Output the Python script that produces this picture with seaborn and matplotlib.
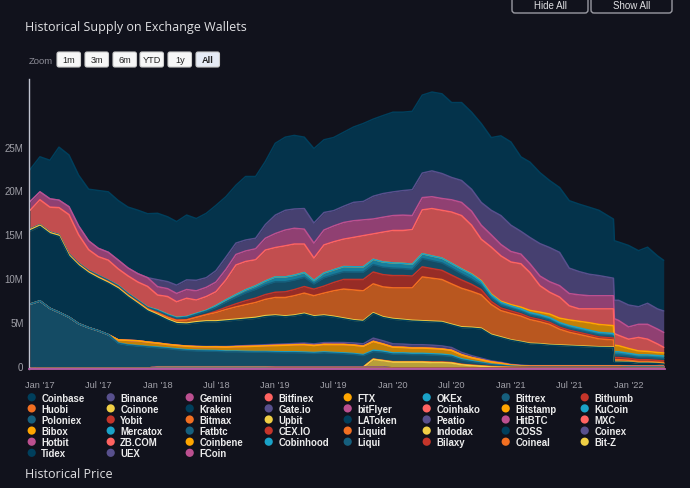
import numpy as np
import pandas as pd
import matplotlib
matplotlib.use("Agg")
import matplotlib.pyplot as plt
import matplotlib.transforms as mtransforms
from matplotlib.patches import FancyBboxPatch, Circle
import seaborn as sns

# ---------------------------------------------------------------- data
DATES = (list(pd.date_range("2016-12-01", "2021-10-01", freq="MS"))
         + [pd.Timestamp("2021-11-15"), pd.Timestamp("2021-11-18")]
         + list(pd.date_range("2021-12-01", "2022-04-01", freq="MS"))
         + [pd.Timestamp("2022-04-20")])
YEARS = [2016, 2017, 2018, 2019, 2020, 2021, 2022]

# monthly readings (millions), rows: 2016-12 | 2017 | 2018 | 2019 | 2020 | 2021 (+Nov15, Nov18) | 2022
COINBASE = [3.65,
            4.0, 4.4, 6.05, 5.9, 5.8, 5.9, 6.6, 6.9, 6.8, 6.95, 7.25, 7.3,
            7.58, 7.4, 7.25, 7.4, 7.05, 7.35, 7.45, 6.9, 6.6, 7.25, 7.05, 7.2,
            8.2, 8.35, 8.4, 8.15, 8.5, 8.3, 8.35, 8.45, 8.6, 8.9, 8.8, 8.9,
            9.1, 8.95, 8.95, 8.9, 9.0, 9.1, 8.55, 8.9, 8.8, 9.0, 8.3, 9.1,
            9.5, 8.5, 8.6, 8.1, 7.65, 7.4, 7.7, 7.7, 7.65, 7.45, 6.75, 6.8, 6.65,
            6.8, 6.4, 6.4, 6.05, 5.78]
BINANCE = [0,
           0, 0, 0, 0, 0, 0, 0, 0, 0, 0, 0, 0,
           0.8, 0.8, 0.95, 1.1, 1.2, 1.1, 1.3, 1.4, 1.3, 1.25, 1.2, 1.55,
           2.1, 2.25, 2.2, 2.35, 2.3, 2.0, 1.75, 1.85, 2.1, 2.1, 2.6, 2.7,
           2.7, 2.8, 2.95, 2.8, 2.95, 2.85, 2.55, 2.5, 2.5, 2.6, 2.8, 3.3,
           3.0, 2.6, 3.0, 3.7, 3.9, 3.8, 2.9, 2.65, 2.45, 2.3, 2.0, 2.1, 2.3,
           2.5, 2.0, 2.4, 2.3, 2.45]
GEMINI = [1.0,
          0.9, 0.95, 0.85, 0.9, 1.0, 1.0, 0.95, 0.9, 1.0, 0.9, 0.95, 1.0,
          0.95, 0.9, 0.95, 1.0, 1.05, 1.05, 1.1, 1.2, 1.2, 1.2, 1.25, 1.35,
          1.6, 1.8, 1.8, 1.7, 1.7, 1.7, 1.8, 1.9, 1.9, 1.8, 1.7, 1.7,
          1.7, 1.75, 1.6, 1.4, 1.35, 1.35, 1.4, 1.5, 1.6, 1.6, 1.4, 1.3,
          1.2, 1.1, 1.0, 1.1, 1.2, 1.3, 1.4, 1.6, 1.5, 1.5, 1.5, 1.7, 1.7,
          1.4, 1.5, 1.7, 1.7, 1.7]
BITFINEX = [2.14,
            2.84, 2.84, 3.08, 4.49, 3.26, 2.38, 2.14, 2.29, 1.9, 2.0, 2.08, 2.36,
            1.7, 2.03, 1.78, 2.08, 1.53, 1.58, 1.58, 2.28, 3.38, 3.23, 2.98, 3.53,
            3.35, 3.55, 3.55, 3.25, 2.55, 3.2, 3.2, 3.13, 3.35, 3.55, 2.9, 3.4,
            3.7, 3.75, 3.95, 5.0, 5.4, 5.45, 5.85, 6.08, 5.55, 4.72, 5.35, 5.18,
            4.86, 4.95, 4.32, 3.02, 2.49, 2.41, 1.61, 1.42, 1.58, 1.78, 1.91, 1.33, 1.18,
            1.06, 1.54, 1.39, 0.97, 0.64]
FTX = [0,
       0, 0, 0, 0, 0, 0, 0, 0, 0, 0, 0, 0,
       0, 0, 0, 0, 0, 0, 0, 0, 0, 0, 0, 0,
       0, 0, 0, 0, 0, 0, 0, 0, 0, 0, 0, 0,
       0, 0, 0, 0, 0, 0, 0, 0.02, 0.05, 0.08, 0.1, 0.12,
       0.15, 0.2, 0.25, 0.3, 0.4, 0.5, 0.65, 0.75, 0.85, 0.9, 0.9, 0.75, 0.7,
       0.55, 0.45, 0.4, 0.35, 0.35]
OKEX = [0.02,
        0.02, 0.02, 0.02, 0.02, 0.02, 0.02, 0.02, 0.02, 0.05, 0.05, 0.05, 0.05,
        0.1, 0.1, 0.1, 0.1, 0.1, 0.1, 0.2, 0.25, 0.3, 0.35, 0.4, 0.45,
        0.55, 0.55, 0.55, 0.55, 0.4, 0.55, 0.55, 0.6, 0.6, 0.6, 0.6, 0.6,
        0.6, 0.6, 0.6, 0.55, 0.55, 0.55, 0.55, 0.55, 0.55, 0.45, 0.4, 0.35,
        0.3, 0.3, 0.3, 0.3, 0.3, 0.3, 0.3, 0.3, 0.3, 0.3, 0.3, 0.35, 0.35,
        0.3, 0.3, 0.3, 0.3, 0.3]
BITTREX = [0.05,
           0.05, 0.05, 0.06, 0.08, 0.1, 0.12, 0.15, 0.15, 0.15, 0.15, 0.15, 0.15,
           0.2, 0.2, 0.2, 0.25, 0.3, 0.35, 0.45, 0.6, 0.75, 0.9, 1.0, 1.1,
           1.2, 1.15, 1.1, 1.05, 0.6, 0.95, 0.9, 0.87, 0.85, 0.85, 0.85, 0.85,
           0.85, 0.8, 0.75, 0.95, 0.9, 0.85, 0.8, 0.7, 0.6, 0.5, 0.35, 0.3,
           0.28, 0.26, 0.25, 0.25, 0.24, 0.23, 0.23, 0.22, 0.22, 0.22, 0.22, 0.3, 0.3,
           0.28, 0.25, 0.25, 0.25, 0.25]
BITHUMB = [0.02,
           0.02, 0.02, 0.02, 0.02, 0.02, 0.02, 0.02, 0.02, 0.02, 0.02, 0.02, 0.02,
           0.05, 0.05, 0.05, 0.05, 0.05, 0.05, 0.15, 0.25, 0.35, 0.45, 0.5, 0.55,
           0.6, 0.65, 0.7, 0.75, 0.75, 0.8, 0.95, 1.1, 1.2, 1.3, 1.35, 1.4,
           1.4, 1.4, 1.35, 1.15, 1.1, 1.05, 1.0, 0.95, 0.8, 0.6, 0.35, 0.3,
           0.28, 0.26, 0.25, 0.25, 0.24, 0.23, 0.23, 0.23, 0.22, 0.22, 0.22, 0.25, 0.25,
           0.22, 0.2, 0.2, 0.2, 0.2]
HUOBI = [0,
         0, 0, 0, 0.02, 0.03, 0.04, 0.05, 0.05, 0.06, 0.07, 0.08, 0.1,
         0.15, 0.2, 0.25, 0.35, 0.5, 0.7, 0.95, 1.2, 1.4, 1.55, 1.7, 1.85,
         2.0, 2.1, 2.2, 2.3, 2.3, 2.5, 2.9, 3.3, 3.4, 3.4, 3.3, 3.4,
         3.5, 3.6, 3.7, 5.0, 4.9, 4.8, 4.6, 4.4, 4.1, 3.8, 3.4, 3.0,
         3.0, 2.9, 2.7, 2.5, 2.3, 1.8, 1.5, 1.3, 1.1, 0.9, 0.8, 0.2, 0.2,
         0.18, 0.15, 0.15, 0.12, 0.12]
KRAKEN = [8.35,
          8.5, 8.5, 8.65, 6.95, 6.6, 6.2, 5.95, 5.85, 5.8, 4.95, 4.2, 3.55,
          3.15, 2.75, 2.45, 2.5, 2.7, 2.82, 2.8, 2.9, 2.95, 3.0, 3.05, 3.2,
          3.25, 3.1, 3.15, 3.3, 3.1, 3.05, 2.9, 2.7, 2.55, 2.55, 2.8, 2.65,
          2.79, 2.72, 2.69, 2.64, 2.64, 2.68, 2.56, 2.82, 3.14, 3.33, 2.93, 2.8,
          2.73, 2.63, 2.48, 2.43, 2.33, 2.28, 2.23, 2.18, 2.13, 2.08, 2.05, 0.4, 0.4,
          0.4, 0.3, 0.3, 0.25, 0.2]
GATEIO = [0,
          0, 0, 0, 0, 0, 0, 0, 0, 0, 0, 0, 0,
          0, 0, 0, 0, 0, 0, 0.02, 0.05, 0.05, 0.08, 0.1, 0.1,
          0.1, 0.12, 0.12, 0.15, 0.15, 0.18, 0.2, 0.2, 0.22, 0.25, 0.35, 0.35,
          0.35, 0.35, 0.35, 0.35, 0.35, 0.33, 0.3, 0.25, 0.2, 0.15, 0.1, 0.08,
          0.05, 0.04, 0.04, 0.04, 0.04, 0.04, 0.04, 0.04, 0.04, 0.04, 0.04, 0.04, 0.04,
          0.04, 0.04, 0.04, 0.04, 0.04]
BITSTAMP = [0,
            0, 0, 0, 0, 0, 0, 0, 0, 0.35, 0.5, 0.55, 0.5,
            0.45, 0.4, 0.4, 0.4, 0.4, 0.4, 0.42, 0.45, 0.5, 0.55, 0.6, 0.65,
            0.7, 0.75, 0.8, 0.85, 0.8, 0.85, 0.9, 0.95, 0.95, 0.95, 1.0, 0.8,
            0.65, 0.62, 0.6, 0.6, 0.6, 0.58, 0.55, 0.45, 0.35, 0.3, 0.25, 0.2,
            0.12, 0.08, 0.06, 0.06, 0.06, 0.06, 0.06, 0.06, 0.06, 0.06, 0.06, 0.06, 0.06,
            0.06, 0.06, 0.06, 0.06, 0.06]
KUCOIN = [0,
          0, 0, 0, 0, 0, 0, 0, 0, 0.05, 0.05, 0.05, 0.05,
          0.08, 0.08, 0.08, 0.08, 0.08, 0.08, 0.08, 0.08, 0.08, 0.08, 0.08, 0.08,
          0.1, 0.1, 0.1, 0.1, 0.1, 0.1, 0.1, 0.1, 0.1, 0.1, 0.15, 0.15,
          0.15, 0.15, 0.15, 0.15, 0.15, 0.15, 0.13, 0.12, 0.1, 0.08, 0.06, 0.05,
          0.04, 0.03, 0.03, 0.03, 0.03, 0.03, 0.03, 0.03, 0.03, 0.03, 0.03, 0.03, 0.03,
          0.03, 0.03, 0.03, 0.03, 0.03]
POLONIEX = [7.31,
            7.66, 6.81, 6.36, 5.81, 5.06, 4.61, 4.26, 3.81, 2.81, 2.61, 2.51, 2.41,
            2.16, 2.06, 1.96, 1.86, 1.81, 1.79, 1.77, 1.71, 1.71, 1.68, 1.66, 1.66,
            1.64, 1.62, 1.62, 1.59, 1.54, 1.61, 1.55, 1.5, 1.43, 1.3, 0.85, 0.9,
            0.85, 0.85, 0.8, 0.8, 0.8, 0.75, 0.7, 0.5, 0.4, 0.3, 0.2, 0.15,
            0.1, 0.07, 0.05, 0.05, 0.05, 0.05, 0.05, 0.05, 0.05, 0.05, 0.05, 0.05, 0.05,
            0.05, 0.05, 0.05, 0.05, 0.05]
UPBIT = [0,
         0, 0, 0, 0, 0, 0, 0, 0, 0, 0, 0, 0,
         0, 0, 0, 0, 0, 0, 0, 0, 0, 0, 0, 0,
         0, 0, 0, 0, 0, 0, 0, 0, 0, 0, 0.9, 0.75,
         0.65, 0.65, 0.65, 0.65, 0.6, 0.6, 0.55, 0.35, 0.25, 0.18, 0.1, 0.06,
         0.04, 0.03, 0.02, 0.02, 0.02, 0.02, 0.02, 0.02, 0.02, 0.02, 0.02, 0.02, 0.02,
         0.02, 0.02, 0.02, 0.02, 0.02]

# thin series, one reading per calendar year (2016 ... 2022)
COINONE_Y = [0.12, 0.12, 0.12, 0.10, 0.10, 0.08, 0.05]
BITFLYER_Y = [0, 0, 0.02, 0.02, 0.02, 0.02, 0.02]
COINHAKO_Y = [0, 0, 0, 0.01, 0.01, 0.01, 0.01]
YOBIT_Y = [0, 0, 0.02, 0.02, 0.02, 0, 0]
BITMAX_Y = [0, 0, 0, 0.02, 0.04, 0.03, 0.02]
LATOKEN_Y = [0, 0, 0.01, 0.01, 0, 0, 0]
PEATIO_Y = [0, 0, 0.01, 0, 0, 0, 0]
HITBTC_Y = [0.04, 0.04, 0.04, 0.04, 0.04, 0.04, 0.04]
MXC_Y = [0, 0, 0, 0, 0.01, 0.01, 0.01]
BIBOX_Y = [0, 0, 0.02, 0.02, 0, 0, 0]
MERCATOX_Y = [0, 0.01, 0.01, 0, 0, 0, 0]
FATBTC_Y = [0, 0, 0.01, 0, 0, 0, 0]
CEXIO_Y = [0.02, 0.02, 0.02, 0.02, 0.02, 0.02, 0.02]
LIQUID_Y = [0, 0, 0.03, 0.03, 0.03, 0.02, 0.02]
INDODAX_Y = [0.01, 0.01, 0.01, 0.01, 0.01, 0.01, 0.01]
COSS_Y = [0, 0, 0.01, 0, 0, 0, 0]
COINEX_Y = [0, 0, 0, 0.01, 0.01, 0.01, 0.01]
HOTBIT_Y = [0, 0, 0, 0, 0.01, 0.01, 0]
ZBCOM_Y = [0, 0, 0.01, 0.01, 0, 0, 0]
COINBENE_Y = [0, 0, 0, 0.01, 0, 0, 0]
COBINHOOD_Y = [0, 0, 0.01, 0, 0, 0, 0]
LIQUI_Y = [0.02, 0.02, 0.02, 0, 0, 0, 0]
BILAXY_Y = [0, 0, 0, 0.01, 0, 0, 0]
COINEAL_Y = [0, 0, 0, 0.01, 0, 0, 0]
BITZ_Y = [0, 0, 0.01, 0.01, 0, 0, 0]
TIDEX_Y = [0, 0.01, 0, 0, 0, 0, 0]
UEX_Y = [0, 0, 0.01, 0, 0, 0, 0]
FCOIN_Y = [0, 0, 0.01, 0.01, 0, 0, 0]

NAMES = ["Coinbase", "Binance", "Gemini", "Bitfinex", "FTX", "OKEx", "Bittrex", "Bithumb",
         "Huobi", "Coinone", "Kraken", "Gate.io", "bitFlyer", "Coinhako", "Bitstamp", "KuCoin",
         "Poloniex", "Yobit", "Bitmax", "Upbit", "LAToken", "Peatio", "HitBTC", "MXC",
         "Bibox", "Mercatox", "Fatbtc", "CEX.IO", "Liquid", "Indodax", "COSS", "Coinex",
         "Hotbit", "ZB.COM", "Coinbene", "Cobinhood", "Liqui", "Bilaxy", "Coineal", "Bit-Z",
         "Tidex", "UEX", "FCoin"]
PALETTE = ["#003f5c", "#58508d", "#bc5090", "#ff6361", "#ffa600",
           "#1aa2c7", "#165f7d", "#c5352a", "#f26f21", "#f0cf45"]
Y_TICKS = [0, 5, 10, 15, 20, 25, 30]
Y_LABELS = ["0", "5M", "10M", "15M", "20M", "25M", ""]
ZOOM_BUTTONS = ["1m", "3m", "6m", "YTD", "1y", "All"]

year_pos = [YEARS.index(d.year) for d in DATES]
def per_year(vals):
    return [vals[k] for k in year_pos]

VALUES = {
    "Coinbase": COINBASE, "Binance": BINANCE, "Gemini": GEMINI, "Bitfinex": BITFINEX,
    "FTX": FTX, "OKEx": OKEX, "Bittrex": BITTREX, "Bithumb": BITHUMB, "Huobi": HUOBI,
    "Coinone": per_year(COINONE_Y), "Kraken": KRAKEN, "Gate.io": GATEIO,
    "bitFlyer": per_year(BITFLYER_Y), "Coinhako": per_year(COINHAKO_Y), "Bitstamp": BITSTAMP,
    "KuCoin": KUCOIN, "Poloniex": POLONIEX, "Yobit": per_year(YOBIT_Y),
    "Bitmax": per_year(BITMAX_Y), "Upbit": UPBIT, "LAToken": per_year(LATOKEN_Y),
    "Peatio": per_year(PEATIO_Y), "HitBTC": per_year(HITBTC_Y), "MXC": per_year(MXC_Y),
    "Bibox": per_year(BIBOX_Y), "Mercatox": per_year(MERCATOX_Y), "Fatbtc": per_year(FATBTC_Y),
    "CEX.IO": per_year(CEXIO_Y), "Liquid": per_year(LIQUID_Y), "Indodax": per_year(INDODAX_Y),
    "COSS": per_year(COSS_Y), "Coinex": per_year(COINEX_Y), "Hotbit": per_year(HOTBIT_Y),
    "ZB.COM": per_year(ZBCOM_Y), "Coinbene": per_year(COINBENE_Y),
    "Cobinhood": per_year(COBINHOOD_Y), "Liqui": per_year(LIQUI_Y), "Bilaxy": per_year(BILAXY_Y),
    "Coineal": per_year(COINEAL_Y), "Bit-Z": per_year(BITZ_Y), "Tidex": per_year(TIDEX_Y),
    "UEX": per_year(UEX_Y), "FCoin": per_year(FCOIN_Y),
}
COLORS = {n: PALETTE[i % len(PALETTE)] for i, n in enumerate(NAMES)}

# ---------------------------------------------------------------- style
BG = "#11121c"
sns.set_theme(style="dark", rc={"axes.facecolor": BG, "figure.facecolor": BG})
plt.rcParams["font.family"] = ["Liberation Sans", "DejaVu Sans"]

fig = plt.figure(figsize=(6.9, 4.89), dpi=100)
fig.patch.set_facecolor(BG)
ax = fig.add_axes([29 / 690, 1 - 370 / 489, 636 / 690, 290 / 489])
ax.set_facecolor(BG)

# stacked areas: first series on top
arr = np.array([VALUES[n] for n in NAMES], dtype=float)
ax.stackplot(DATES, *arr[::-1], colors=[COLORS[n] for n in NAMES[::-1]],
             alpha=0.75, linewidth=0)

tops = arr[::-1].cumsum(axis=0)[::-1]
long = pd.DataFrame({
    "date": np.tile(np.array(DATES, dtype="datetime64[ns]"), len(NAMES)),
    "exchange": np.repeat(NAMES, len(DATES)),
    "top": tops.ravel(),
})
sns.lineplot(data=long, x="date", y="top", hue="exchange", hue_order=NAMES,
             palette=COLORS, linewidth=1.1, legend=False, estimator=None, ax=ax)

ax.set_xlim(pd.Timestamp("2016-11-28"), pd.Timestamp("2022-04-24"))
ax.set_ylim(0, 33.1)
ax.set_xlabel("")
ax.set_ylabel("")
ax.grid(False)

xt = pd.date_range("2017-01-01", "2022-01-01", freq="6MS")
ax.set_xticks(xt)
ax.set_xticklabels([("Jan" if d.month == 1 else "Jul") + " '" + d.strftime("%y") for d in xt])
ax.set_yticks(Y_TICKS)
ax.set_yticklabels(Y_LABELS)
ax.tick_params(axis="x", colors="#c0c4d0", length=7, width=1, direction="out",
               labelcolor="#a0a0a8", labelsize=6.7, pad=1.0)
ax.tick_params(axis="y", colors="#c0c4d0", length=7, width=1, direction="out",
               labelcolor="#a0a0a8", labelsize=7, pad=-3.0)
shift = mtransforms.ScaledTranslation(0, 3.3 / 100, fig.dpi_scale_trans)
for lab in ax.get_yticklabels():
    lab.set_transform(lab.get_transform() + shift)
for s in ["top", "right"]:
    ax.spines[s].set_visible(False)
ax.spines["left"].set_color("#c0c4d0")
ax.spines["left"].set_linewidth(1)
ax.spines["bottom"].set_color("#b25aa3")
ax.spines["bottom"].set_linewidth(1.3)

# ---------------------------------------------------------------- overlay (pixel coordinates)
ov = fig.add_axes([0, 0, 1, 1])
ov.set_xlim(0, 690)
ov.set_ylim(489, 0)
ov.axis("off")
ov.patch.set_alpha(0)

ov.text(25, 27, "Historical Supply on Exchange Wallets", fontsize=9.0, color="#e0e0e3",
        va="center", ha="left", family=["Open Sans", "DejaVu Sans"])
ov.text(25, 474, "Historical Price", fontsize=9.0, color="#e0e0e3",
        va="center", ha="left", family=["Open Sans", "DejaVu Sans"])

ov.text(29, 61, "Zoom", fontsize=6.8, color="#8c8c96", va="center", ha="left")
btn_x = [57, 85, 113, 140, 168, 196]
for lab, x0 in zip(ZOOM_BUTTONS, btn_x):
    sel = lab == "All"
    ov.add_patch(FancyBboxPatch((x0, 53), 23.5, 15, boxstyle="round,pad=0,rounding_size=2",
                                fc="#e6ebf5" if sel else "#f7f7f7", ec="#cccccc", lw=0.8))
    ov.text(x0 + 11.75, 60.8, lab, fontsize=6.6, color="#222222", ha="center", va="center",
            weight="bold" if sel else "normal")

for lab, x0, w in [("Hide All", 512, 76), ("Show All", 591, 81)]:
    ov.add_patch(FancyBboxPatch((x0, -14), w, 28, boxstyle="round,pad=0,rounding_size=3",
                                fc=BG, ec="#9a9aa2", lw=1))
    ov.text(x0 + w / 2, 6.0, lab, fontsize=7.0, color="#e0e0e3", ha="center", va="center")

for i, name in enumerate(NAMES):
    r, c = divmod(i, 8)
    cx = 31.7 + 79 * c
    cy = 398.3 + 11.1 * r
    ov.add_patch(Circle((cx, cy), 4.1, color=COLORS[name], lw=0))
    ov.text(cx + 9.5, cy + 0.3, name, fontsize=6.9, weight="bold", color="#ececec",
            ha="left", va="center")

fig.savefig("out.png", dpi=100, facecolor=BG)
